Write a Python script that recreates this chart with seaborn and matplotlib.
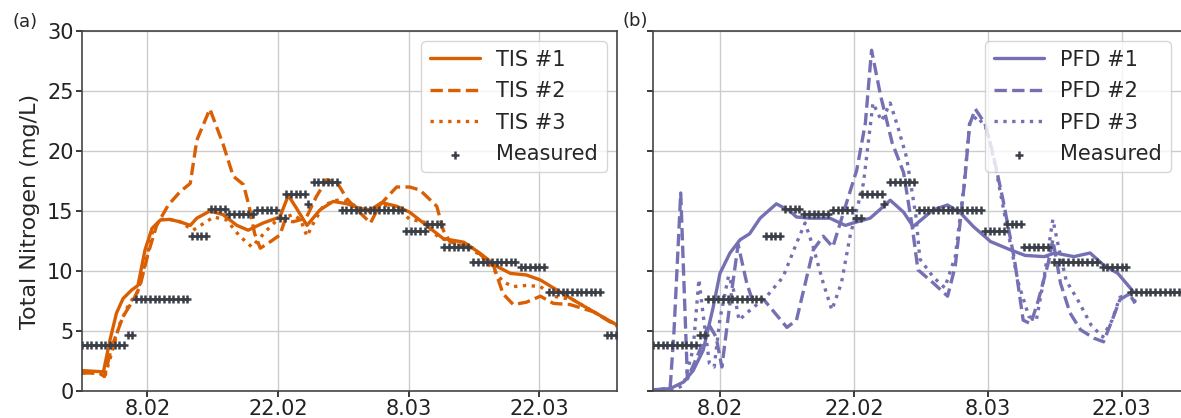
import numpy as np
import pandas as pd
import seaborn as sns
import matplotlib.pyplot as plt
import matplotlib.dates as mdates

# Days counted from 1 Feb 2021
start_date = pd.Timestamp('2021-02-01')

# Measured total nitrogen: (first day, last day, value) of each sampling period
meas_start = [0.0, 4.9, 5.8, 11.8, 13.8, 15.8, 18.8, 21.2, 21.9, 24.2, 24.8, 27.8, 34.7, 37.0, 38.8, 41.9, 47.0, 50.0, 56.2]
meas_end = [4.5, 5.4, 11.6, 13.5, 15.4, 18.3, 20.8, 21.7, 23.9, 24.5, 27.3, 34.3, 36.7, 38.5, 41.5, 46.7, 49.7, 55.8, 57.5]
meas_val = [3.83, 4.67, 7.64, 12.94, 15.14, 14.75, 15.1, 14.45, 16.4, 15.6, 17.4, 15.05, 13.3, 13.9, 11.97, 10.75, 10.36, 8.25, 4.67]

# TIS models
tis1_days = [0, 2.3, 3.0, 3.7, 4.4, 5.3, 6.0, 6.75, 7.5, 8.4, 9.4, 10.5, 11.6, 12.3, 13.7, 15.1, 16.6, 17.8, 19.4, 21.2,
             22.1, 23.0, 24.1, 25.5, 26.9, 28.4, 29.8, 30.9, 32.1, 33.7, 35.1, 36.9, 38.7, 40.9, 42.6, 44.4, 45.9, 47.6,
             49.1, 50.9, 52.6, 54.8, 57.3]
tis1_vals = [1.7, 1.6, 4.25, 6.5, 7.7, 8.4, 8.8, 11.75, 13.55, 14.25, 14.3, 14.1, 13.8, 14.4, 15.0, 14.7, 13.8, 13.4, 14.0, 14.5,
             16.3, 15.2, 13.8, 15.1, 15.8, 15.6, 15.2, 15.1, 15.7, 15.4, 14.9, 13.8, 12.7, 12.4, 11.5, 10.4, 9.8, 9.67,
             9.25, 8.4, 7.6, 6.6, 5.5]
tis2_days = [0, 1.9, 2.4, 3.2, 4.4, 5.5, 6.2, 7.1, 8.0, 9.25, 10.5, 11.6, 12.3, 13.7, 15.1, 16.2, 17.3, 17.9, 18.5, 19.1,
             20.1, 21.2, 21.75, 22.6, 24.0, 25.1, 26.2, 27.3, 28.4, 29.6, 30.9, 31.9, 33.7, 35.1, 36.2, 38.0, 38.7, 39.4,
             41.9, 44.1, 45.1, 46.2, 47.6, 49.1, 50.5, 52.3, 54.8, 57.3]
tis2_vals = [1.5, 1.5, 1.2, 3.7, 6.2, 7.6, 8.7, 11.5, 13.8, 15.5, 16.6, 17.3, 20.9, 23.5, 20.6, 17.9, 17.2, 15.4, 13.1, 11.9,
             12.4, 13.0, 14.25, 14.1, 14.4, 16.2, 17.6, 17.4, 16.0, 15.0, 14.0, 15.5, 17.0, 17.0, 16.75, 15.4, 13.4, 12.45,
             11.9, 10.4, 8.1, 7.2, 7.4, 7.9, 7.3, 7.2, 6.6, 5.4]
tis3_days = [0, 1.9, 2.4, 3.2, 4.0, 5.0, 6.0, 6.9, 7.6, 8.4, 9.4, 10.5, 11.9, 14.1, 15.5, 16.9, 18.2, 19.8, 20.9, 22.6,
             23.4, 24.1, 24.8, 25.9, 27.3, 28.4, 29.8, 30.9, 32.3, 33.9, 35.1, 36.6, 38.2, 40.4, 42.6, 44.1, 45.1, 46.2,
             47.6, 49.1, 50.5, 52.6, 54.8, 57.3]
tis3_vals = [1.5, 1.5, 1.1, 3.2, 5.5, 7.2, 8.3, 11.0, 13.4, 14.3, 14.3, 14.1, 13.4, 14.5, 14.25, 12.9, 12.0, 13.4, 14.25, 14.7,
             14.3, 12.9, 14.0, 15.5, 15.9, 15.8, 15.2, 14.9, 15.5, 15.2, 14.3, 14.1, 12.8, 12.2, 11.4, 10.1, 9.1, 8.7,
             8.8, 8.7, 7.9, 7.6, 6.6, 5.5]

# PFD models
pfd1_days = [0, 1.8, 3.2, 4.2, 5.25, 6.3, 7.0, 8.05, 9.1, 10.1, 11.2, 12.9, 14.3, 15.0, 16.4, 18.5, 20.1, 20.9, 22.7,
             23.7, 24.8, 26.2, 27.2, 29.3, 30.8, 32.2, 33.5, 35.3, 37.4, 38.9, 40.9, 42.0, 44.0, 45.7, 47.1, 48.6, 50.2]
pfd1_vals = [0.1, 0.2, 0.75, 1.7, 3.4, 7.0, 9.8, 11.5, 12.6, 13.1, 14.4, 15.6, 15.0, 14.5, 14.4, 14.4, 13.8, 14.0, 14.4,
             15.1, 15.9, 14.9, 13.7, 15.1, 15.5, 14.8, 13.7, 12.45, 11.75, 11.3, 11.2, 11.5, 11.2, 11.5, 10.5, 9.8, 8.3]
pfd2_days = [0, 1.8, 2.2, 2.9, 3.6, 4.9, 5.8, 6.6, 7.2, 8.0, 8.9, 9.8, 10.3, 11.6, 14.0, 15.0, 16.75, 17.8, 18.8, 20.2,
             21.3, 22.2, 22.85, 23.8, 25.0, 26.2, 27.1, 27.7, 29.3, 30.8, 31.6, 32.6, 33.1, 33.7, 34.7, 35.6, 36.6, 37.8,
             38.7, 39.5, 40.3, 41.3, 41.8, 42.6, 43.6, 44.7, 46.1, 47.1, 48.0, 48.8, 49.8, 50.4]
pfd2_vals = [0.0, 0.3, 5.0, 16.5, 1.0, 3.4, 5.6, 4.5, 2.0, 7.0, 12.2, 9.0, 7.8, 7.6, 5.3, 5.9, 11.75, 12.9, 12.0, 15.6,
             18.4, 22.3, 28.4, 24.6, 20.7, 18.2, 13.7, 10.1, 9.0, 7.9, 10.4, 17.6, 22.2, 23.5, 22.3, 19.6, 15.9, 10.9,
             5.9, 5.6, 7.6, 10.6, 12.6, 9.0, 6.5, 5.1, 4.4, 4.1, 5.9, 7.6, 8.1, 7.3]
pfd3_days = [0, 2.0, 3.2, 4.2, 4.8, 5.3, 5.9, 6.4, 7.0, 7.9, 8.4, 9.0, 9.8, 11.9, 13.6, 15.0, 15.9, 16.75, 17.8, 18.7,
             19.7, 20.6, 21.3, 22.0, 23.0, 23.9, 24.8, 25.6, 26.5, 27.5, 27.9, 29.3, 30.5, 31.6, 32.5, 33.1, 33.9, 34.9,
             35.8, 37.0, 38.2, 39.3, 40.1, 40.9, 41.8, 42.4, 43.2, 44.4, 45.8, 47.0, 48.0, 48.8, 49.7, 50.6]
pfd3_vals = [0.0, 0.0, 0.5, 3.5, 9.3, 6.0, 2.3, 2.0, 6.0, 9.6, 8.5, 5.9, 6.5, 7.9, 9.5, 12.3, 14.0, 12.0, 9.0, 6.75,
             9.0, 12.9, 15.1, 17.3, 24.0, 22.5, 24.0, 22.0, 19.5, 14.5, 11.0, 9.5, 8.6, 11.2, 17.0, 22.3, 22.9, 21.8,
             18.7, 13.7, 9.0, 6.2, 6.0, 9.5, 14.3, 12.0, 9.2, 7.6, 5.5, 4.5, 5.9, 7.8, 8.1, 7.3]

tick_dates = ['2021-02-08', '2021-02-22', '2021-03-08', '2021-03-22']

ORANGE = '#d95f02'
PURPLE = '#7570b3'
MEAS = '#3a3f47'


def to_dates(days):
    return start_date + pd.to_timedelta(np.asarray(days, dtype=float), unit='D')


# Measured values repeated every 12 h over each sampling period
m_days, m_vals = [], []
for s, e, v in zip(meas_start, meas_end, meas_val):
    d = np.arange(s, e + 0.01, 0.5)
    m_days.extend(d)
    m_vals.extend([v] * len(d))
measured = pd.DataFrame({'date': to_dates(m_days), 'tn': m_vals})

sns.set_theme(style='whitegrid')
plt.rcParams['font.family'] = ['DejaVu Sans']
plt.rcParams.update({
    'axes.edgecolor': '#444444',
    'axes.linewidth': 1.2,
    'grid.color': '#cccccc',
    'grid.linewidth': 1.0,
    'xtick.bottom': True,
    'ytick.left': True,
    'xtick.major.size': 4,
    'ytick.major.size': 4,
    'xtick.color': '#222222',
    'ytick.color': '#222222',
})

fig = plt.figure(figsize=(11.81, 4.18), dpi=100)
ax_a = fig.add_axes([0.0694, 0.0646, 0.4530, 0.8612])
ax_b = fig.add_axes([0.5529, 0.0646, 0.4471, 0.8612])

panels = [
    (ax_a, ORANGE, 'TIS', [(tis1_days, tis1_vals), (tis2_days, tis2_vals), (tis3_days, tis3_vals)], 57.3),
    (ax_b, PURPLE, 'PFD', [(pfd1_days, pfd1_vals), (pfd2_days, pfd2_vals), (pfd3_days, pfd3_vals)], 55.2),
]
styles = ['-', '--', ':']

for ax, color, name, series, xmax in panels:
    for i, (d, v) in enumerate(series):
        sns.lineplot(x=to_dates(d), y=v, ax=ax, color=color, linestyle=styles[i],
                     linewidth=2.4, label=f'{name} #{i+1}')
    sns.scatterplot(data=measured, x='date', y='tn', ax=ax, marker='+', color=MEAS,
                    s=40, linewidth=1.8, label='Measured', zorder=3)
    ax.set_xlim(start_date, start_date + pd.Timedelta(days=xmax))
    ax.set_ylim(0, 30)
    ax.set_yticks([0, 5, 10, 15, 20, 25, 30])
    ax.set_xticks(pd.to_datetime(tick_dates))
    ax.xaxis.set_major_formatter(mdates.DateFormatter('%-d.%m'))
    ax.tick_params(labelsize=15, pad=2)
    ax.set_xlabel('')
    ax.set_ylabel('')
    ax.legend(loc='upper right', fontsize=15, handlelength=2.4, labelspacing=0.55, framealpha=0.8)

ax_a.set_ylabel('Total Nitrogen (mg/L)', fontsize=16, labelpad=5)
ax_b.tick_params(labelleft=False)
ax_b.spines['right'].set_visible(False)

fig.text(0.021, 0.947, '(a)', fontsize=13, ha='center', va='center')
fig.text(0.538, 0.950, '(b)', fontsize=13, ha='center', va='center')

fig.savefig('out.png', dpi=100)
